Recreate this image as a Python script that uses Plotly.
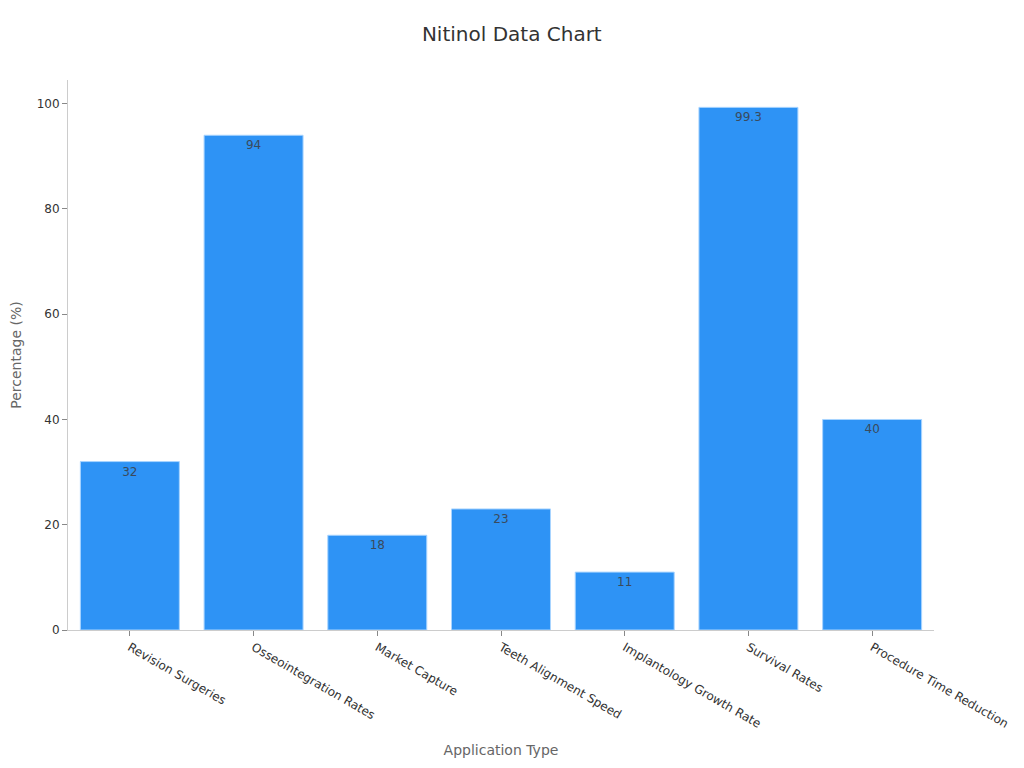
import plotly.graph_objects as go

categories = [
    "Revision Surgeries",
    "Osseointegration Rates",
    "Market Capture",
    "Teeth Alignment Speed",
    "Implantology Growth Rate",
    "Survival Rates",
    "Procedure Time Reduction",
]
values = [32, 94, 18, 23, 11, 99.3, 40]
labels = ["32", "94", "18", "23", "11", "99.3", "40"]

fig = go.Figure()
fig.add_trace(
    go.Bar(
        x=categories,
        y=values,
        text=labels,
        textposition="inside",
        insidetextanchor="end",
        textangle=0,
        textfont=dict(size=12, color="#3a4a5c"),
        marker=dict(color="#2e93f5", line=dict(color="#a8d4ff", width=1)),
        hoverinfo="x+y",
    )
)

fig.update_layout(
    title=dict(
        text="Nitinol Data Chart",
        x=0.492,
        y=0.975,
        xanchor="center",
        font=dict(size=20, color="#333333"),
    ),
    font=dict(family="DejaVu Sans", size=12, color="#333333"),
    width=1024,
    height=768,
    margin=dict(l=60, r=98, t=72, b=146),
    plot_bgcolor="white",
    paper_bgcolor="white",
    bargap=0.2,
    showlegend=False,
    xaxis=dict(
        title=dict(text="Application Type", font=dict(size=14, color="#666666")),
        tickangle=30,
        showline=True,
        linecolor="#cccccc",
        ticks="outside",
        tickcolor="#888888",
        ticklen=5,
        showgrid=False,
        automargin=False,
        tickfont=dict(size=12, color="#333333"),
    ),
    yaxis=dict(
        title=dict(text="Percentage (%)", font=dict(size=14, color="#666666")),
        range=[0, 104.5],
        dtick=20,
        showline=True,
        linecolor="#cccccc",
        ticks="outside",
        tickcolor="#888888",
        ticklen=5,
        showgrid=False,
        zeroline=False,
        automargin=False,
        tickfont=dict(size=12, color="#333333"),
    ),
)

fig.write_html("out.html")
